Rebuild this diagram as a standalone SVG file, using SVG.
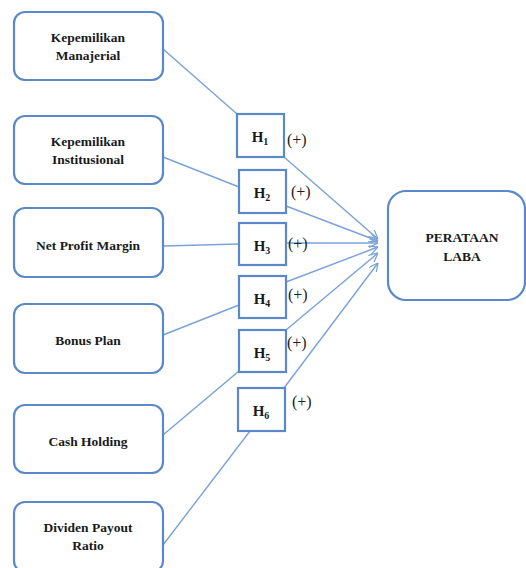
<svg xmlns="http://www.w3.org/2000/svg" width="526" height="568" viewBox="0 0 526 568">
<style>
.box{fill:#fff;stroke:#5a88c8;stroke-width:2.2}
.hb{fill:#fff;stroke:#5a88c8;stroke-width:2.2}
text{font-family:'Liberation Serif','DejaVu Serif',serif}
.lbl{font-weight:bold;font-size:13.5px;fill:#1a1a1a;text-anchor:middle}
.h{font-weight:bold;font-size:15px;fill:#1a1a1a;text-anchor:middle}
.sub{font-size:10px}
.p{font-size:16px;fill:#222}
.ln{stroke:#7ba2d8;stroke-width:1.4;fill:none}
.ar{stroke:#7ba2d8;stroke-width:1.4;fill:none;marker-end:url(#ah)}
</style>
<defs>
<marker id="ah" viewBox="0 0 10 10" refX="10" refY="5" markerWidth="9" markerHeight="9" markerUnits="userSpaceOnUse" orient="auto">
<path d="M0,0 L10,5 L0,10" fill="none" stroke="#7ba2d8" stroke-width="1.4"/>
</marker>
</defs>
<g id="connectors">
<line class="ln" x1="163" y1="49" x2="237" y2="114"/>
<line class="ln" x1="163" y1="157" x2="239" y2="187"/>
<line class="ln" x1="163" y1="246" x2="239" y2="244"/>
<line class="ln" x1="163" y1="335" x2="239" y2="305"/>
<line class="ln" x1="163" y1="435" x2="239" y2="371"/>
<line class="ln" x1="163" y1="545" x2="250" y2="431"/>
<line class="ar" x1="284" y1="157" x2="378" y2="239"/>
<line class="ar" x1="286" y1="206" x2="378" y2="241"/>
<line class="ar" x1="286" y1="243" x2="378" y2="243"/>
<line class="ar" x1="286" y1="282" x2="378" y2="247"/>
<line class="ar" x1="286" y1="330" x2="378" y2="253"/>
<line class="ar" x1="284" y1="388" x2="378" y2="263"/>
</g>
<g id="n1"><rect class="box" x="14" y="12" width="149" height="68" rx="11"/><text class="lbl" x="88" y="42">Kepemilikan</text><text class="lbl" x="88" y="60">Manajerial</text></g>
<g id="n2"><rect class="box" x="14" y="116" width="149" height="68" rx="11"/><text class="lbl" x="88" y="146">Kepemilikan</text><text class="lbl" x="88" y="164">Institusional</text></g>
<g id="n3"><rect class="box" x="14" y="208" width="149" height="69" rx="11"/><text class="lbl" x="88" y="250">Net Profit Margin</text></g>
<g id="n4"><rect class="box" x="14" y="304" width="149" height="69" rx="11"/><text class="lbl" x="88" y="345">Bonus Plan</text></g>
<g id="n5"><rect class="box" x="14" y="405" width="149" height="68" rx="11"/><text class="lbl" x="88" y="446">Cash Holding</text></g>
<g id="n6"><rect class="box" x="14" y="502" width="149" height="70" rx="11"/><text class="lbl" x="88" y="532">Dividen Payout</text><text class="lbl" x="88" y="550">Ratio</text></g>
<g id="h1"><rect class="hb" x="237" y="114" width="47" height="43"/><text class="h" x="260" y="142">H<tspan class="sub" dy="3">1</tspan></text><text class="p" x="287" y="145">(+)</text></g>
<g id="h2"><rect class="hb" x="239" y="170" width="47" height="43"/><text class="h" x="262" y="198">H<tspan class="sub" dy="3">2</tspan></text><text class="p" x="291" y="197">(+)</text></g>
<g id="h3"><rect class="hb" x="239" y="223" width="47" height="42"/><text class="h" x="262" y="251">H<tspan class="sub" dy="3">3</tspan></text><text class="p" x="288" y="249">(+)</text></g>
<g id="h4"><rect class="hb" x="239" y="276" width="47" height="42"/><text class="h" x="262" y="304">H<tspan class="sub" dy="3">4</tspan></text><text class="p" x="288" y="300">(+)</text></g>
<g id="h5"><rect class="hb" x="239" y="330" width="47" height="42"/><text class="h" x="262" y="358">H<tspan class="sub" dy="3">5</tspan></text><text class="p" x="287" y="348">(+)</text></g>
<g id="h6"><rect class="hb" x="238" y="388" width="47" height="43"/><text class="h" x="261" y="416">H<tspan class="sub" dy="3">6</tspan></text><text class="p" x="292" y="407">(+)</text></g>
<g id="target"><rect class="box" x="388" y="191" width="137" height="109" rx="18"/><text class="lbl" x="462" y="242">PERATAAN</text><text class="lbl" x="462" y="261">LABA</text></g>
</svg>
